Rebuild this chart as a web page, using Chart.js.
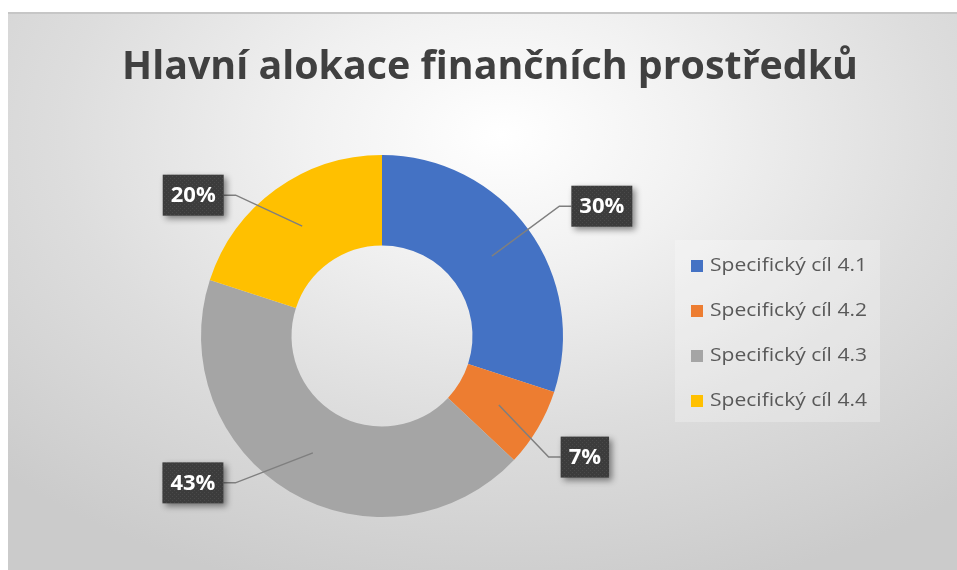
<!DOCTYPE html>
<html>
<head>
<meta charset="utf-8">
<script src="https://cdn.jsdelivr.net/npm/chart.js@4.4.1/dist/chart.umd.min.js"></script>
<style>
  body { margin: 0; background: #fff; }
  .frame {
    position: absolute; left: 8px; top: 12px; width: 949px; height: 558px;
    box-shadow: inset 0 2px 0 #c6c6c6;
    background: radial-gradient(ellipse 75% 85% at 52% 22%, #ffffff 0%, #f1f1f1 28%, #dddddd 62%, #cbcbcb 100%);
  }
  canvas { position: absolute; left: 0; top: 0; }
</style>
</head>
<body>
<div class="frame">
  <canvas id="graph" width="949" height="558"></canvas>
</div>
<script>
const chartTitle = 'Hlavní alokace finančních prostředků'
const categories = ['Specifický cíl 4.1', 'Specifický cíl 4.2', 'Specifický cíl 4.3', 'Specifický cíl 4.4']
const shares = [30, 7, 43, 20]   // percent
const sliceColors = ['#4472C4', '#ED7D31', '#A5A5A5', '#FFC000']

// callouts were dragged by hand in the original, offset from slice centre
const calloutOffsets = [[110, -50], [86, 52], [-120, 30], [-109, -31]]

// tiny dotted texture for the dark label boxes
const dots = document.createElement('canvas')
dots.width = 4; dots.height = 4
const dctx = dots.getContext('2d')
dctx.fillStyle = '#3c3c3c'
dctx.fillRect(0, 0, 4, 4)
dctx.fillStyle = '#4a4a4a'
dctx.fillRect(0, 0, 1, 1)
dctx.fillRect(2, 2, 1, 1)

function drawTitle(ctx) {
    ctx.save()
    ctx.font = 'bold 40px "Open Sans"'
    ctx.fillStyle = '#404040'
    ctx.textAlign = 'center'
    ctx.textBaseline = 'alphabetic'
    const w = ctx.measureText(chartTitle).width
    ctx.translate(482, 67)
    ctx.scale(Math.min(1, 736 / w), 1)   // Calibri is narrower than Open Sans
    ctx.fillText(chartTitle, 0, 0)
    ctx.restore()
}

function drawLegend(chart) {
    const ctx = chart.ctx
    const colors = chart.data.datasets[0].backgroundColor
    ctx.save()
    ctx.fillStyle = 'rgba(255,255,255,0.25)'
    ctx.fillRect(667, 228, 205, 182)
    ctx.font = '19px "Open Sans"'
    ctx.textBaseline = 'middle'
    chart.data.labels.forEach((lbl, i) => {
        const y = 254 + i * 45
        ctx.fillStyle = colors[i]
        ctx.fillRect(683, y - 6, 12, 12)
        ctx.fillStyle = '#595959'
        const w = ctx.measureText(lbl).width
        ctx.save()
        ctx.translate(702, y)
        ctx.scale(157 / w, 1)
        ctx.fillText(lbl, 0, 0)
        ctx.restore()
    })
    ctx.restore()
}

function drawCallouts(chart) {
    const ctx = chart.ctx
    const meta = chart.getDatasetMeta(0)
    const pattern = ctx.createPattern(dots, 'repeat')
    meta.data.forEach((arc, i) => {
        const p = arc.tooltipPosition()
        const [dx, dy] = calloutOffsets[i]
        const text = chart.data.datasets[0].data[i] + '%'
        ctx.save()
        ctx.font = 'bold 22px "Open Sans"'
        const bw = ctx.measureText(text).width + 16
        const bh = 41
        const cx = p.x + dx, cy = p.y + dy
        const bx = cx - bw / 2, by = cy - bh / 2
        const edge = dx > 0 ? bx : bx + bw
        const elbow = dx > 0 ? edge - 12 : edge + 12

        // leader line
        ctx.strokeStyle = '#7f7f7f'
        ctx.lineWidth = 1.5
        ctx.beginPath()
        ctx.moveTo(p.x, p.y)
        ctx.lineTo(elbow, cy)
        ctx.lineTo(edge, cy)
        ctx.stroke()

        // box
        ctx.shadowColor = 'rgba(0,0,0,0.45)'
        ctx.shadowBlur = 6
        ctx.shadowOffsetX = 3
        ctx.shadowOffsetY = 3
        ctx.fillStyle = pattern
        ctx.fillRect(bx, by, bw, bh)
        ctx.shadowColor = 'transparent'

        ctx.fillStyle = '#ffffff'
        ctx.textAlign = 'center'
        ctx.textBaseline = 'middle'
        ctx.fillText(text, cx, cy + 1)
        ctx.restore()
    })
}

const decorations = {
    id: 'decorations',
    afterDraw(chart) {
        drawTitle(chart.ctx)
        drawLegend(chart)
        drawCallouts(chart)
    }
}

const ctx = document.getElementById('graph').getContext('2d')

new Chart(ctx, {
    type: 'doughnut',
    data: {
        labels: categories,
        datasets: [{
            data: shares,
            backgroundColor: sliceColors,
            borderWidth: 0
        }]
    },
    options: {
        responsive: false,
        animation: false,
        cutout: '50%',
        layout: { padding: { left: 193, top: 143, right: 394, bottom: 53 } },
        plugins: {
            legend: { display: false },
            tooltip: { enabled: false }
        }
    },
    plugins: [decorations]
})
</script>
</body>
</html>
